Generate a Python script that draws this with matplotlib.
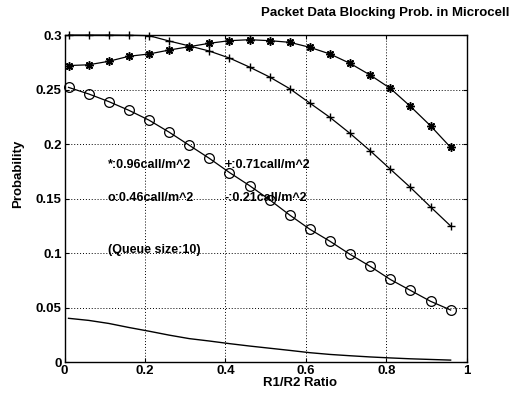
import numpy as np
import matplotlib
matplotlib.use("Agg")
import matplotlib.pyplot as plt

plt.rcParams['font.family'] = ['Liberation Sans', 'DejaVu Sans']
plt.rcParams['font.weight'] = 'bold'

# R1/R2 ratio sample points
ratio = [0.01, 0.06, 0.11, 0.16, 0.21, 0.26, 0.31, 0.36, 0.41, 0.46,
         0.51, 0.56, 0.61, 0.66, 0.71, 0.76, 0.81, 0.86, 0.91, 0.96]

# blocking probability for each call density
p_096 = [0.272, 0.2727, 0.2759, 0.2805, 0.2826, 0.2862, 0.2893, 0.2924, 0.2948, 0.2957,
         0.2948, 0.2933, 0.2887, 0.2826, 0.274, 0.2633, 0.2511, 0.2346, 0.2168, 0.197]
p_071 = [0.300, 0.300, 0.300, 0.2998, 0.2994, 0.2945, 0.290, 0.2853, 0.2789, 0.2706,
         0.2615, 0.2508, 0.2376, 0.2245, 0.2098, 0.1939, 0.1771, 0.1603, 0.1425, 0.125]
p_046 = [0.252, 0.246, 0.239, 0.231, 0.222, 0.211, 0.199, 0.187, 0.174, 0.162,
         0.149, 0.135, 0.122, 0.111, 0.099, 0.088, 0.076, 0.066, 0.056, 0.048]
p_021 = [0.0404, 0.0385, 0.0357, 0.032, 0.0286, 0.025, 0.0218, 0.0196, 0.0172, 0.015,
         0.013, 0.011, 0.0089, 0.0073, 0.0061, 0.005, 0.0041, 0.0033, 0.0027, 0.0021]

xticks = [0, 0.2, 0.4, 0.6, 0.8, 1]
xticklabels = ['0', '0.2', '0.4', '0.6', '0.8', '1']
yticks = [0, 0.05, 0.1, 0.15, 0.2, 0.25, 0.3]
yticklabels = ['0', '0.05', '0.1', '0.15', '0.2', '0.25', '0.3']

fig = plt.figure(figsize=(5.16, 4.0), dpi=100)
ax = fig.add_axes([0.125, 0.094, 0.7795, 0.8185])

ax.plot(ratio, p_096, color='k', lw=0.9, marker=(8, 2, 0), ms=6, mew=1.1, clip_on=False)
ax.plot(ratio, p_071, color='k', lw=0.9, marker='+', ms=5.5, mew=1.0, clip_on=False)
ax.plot(ratio, p_046, color='k', lw=0.9, marker='o', ms=7, mfc='none', mew=0.9, clip_on=False)
ax.plot(ratio, p_021, color='k', lw=1.0, clip_on=False)

ax.set_xlim(0, 1)
ax.set_ylim(0, 0.3)
ax.set_xticks(xticks)
ax.set_xticklabels(xticklabels)
ax.set_yticks(yticks)
ax.set_yticklabels(yticklabels)
ax.tick_params(direction='in', length=3, labelsize=9.5, pad=2, top=True, right=True, width=0.8)
ax.grid(True, color='k', linestyle=(0, (1, 2)), linewidth=0.7)
for s in ax.spines.values():
    s.set_linewidth(1.0)

# legend notes written inside the axes
tk = dict(fontsize=9, fontweight='bold', va='center', ha='left')
ax.text(0.108, 0.181, '*:0.96call/m^2', **tk)
ax.text(0.399, 0.181, '+:0.71call/m^2', **tk)
ax.text(0.108, 0.1507, 'o:0.46call/m^2', **tk)
ax.text(0.399, 0.1507, '-:0.21call/m^2', **tk)
ax.text(0.108, 0.103, '(Queue size:10)', **tk)

ax.set_xlabel('R1/R2 Ratio', fontsize=9.5, fontweight='bold', va='center')
ax.xaxis.set_label_coords(0.586, -0.063)
ax.set_ylabel('Probability', fontsize=9.5, fontweight='bold', va='center', ha='center')
ax.yaxis.set_label_coords(-0.116, 0.576)

fig.text(0.988, 0.9675, 'Packet Data Blocking Prob. in Microcell',
         fontsize=9.5, fontweight='bold', ha='right', va='center')

fig.savefig('out.png', dpi=100)
